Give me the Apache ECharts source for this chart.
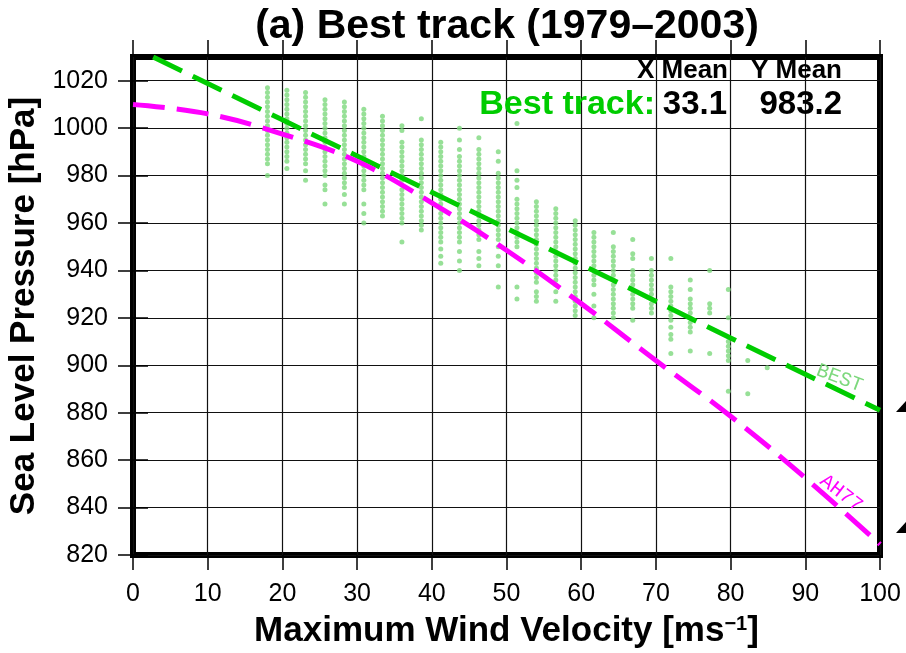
<!DOCTYPE html>
<html>
<head>
<meta charset="utf-8">
<title>Best track (1979–2003)</title>
<script src="https://cdn.jsdelivr.net/npm/echarts@6.0.0/dist/echarts.min.js"></script>
<style>
  html, body { margin: 0; padding: 0; background: #fff; }
  #chart { width: 906px; height: 653px; }
</style>
</head>
<body>
<div id="chart"></div>
<script>
// wind speed of each observation column (m/s, 5 kt steps)
const windColumns = [18.0, 20.6, 23.1, 25.7, 28.3, 30.9, 33.4, 36.0, 38.6, 41.2, 43.7, 46.3, 48.9, 51.4,
  54.0, 56.6, 59.2, 61.7, 64.3, 66.9, 69.4, 72.0, 74.6, 77.2, 79.7, 82.3, 84.9];

// sea level pressures observed in each column (hPa)
const pressureColumns = [
  [1017, 1015, 1013, 1011, 1009, 1007, 1005, 1003, 1001, 999, 997, 995, 993, 991, 989, 987, 985, 980],
  [1016, 1014, 1012, 1010, 1008, 1006, 1004, 1002, 1000, 998, 996, 994, 992, 990, 988, 986, 983],
  [1015, 1013, 1011, 1009, 1007, 1005, 1003, 1001, 999, 997, 995, 993, 991, 989, 987, 985, 982, 978],
  [1012, 1010, 1008, 1006, 1004, 1002, 1000, 998, 996, 994, 992, 990, 988, 986, 984, 982, 980, 976, 974, 968],
  [1011, 1009, 1007, 1005, 1003, 1001, 999, 997, 995, 993, 991, 989, 987, 985, 983, 981, 979, 977, 975, 972, 968],
  [1008, 1006, 1004, 1002, 1000, 998, 996, 994, 992, 990, 988, 986, 984, 982, 980, 978, 976, 974, 968, 964, 960],
  [1005, 1003, 1001, 999, 997, 995, 993, 991, 989, 987, 985, 983, 981, 979, 977, 975, 973, 971, 969, 967, 965, 963],
  [1001, 999, 994, 992, 990, 988, 986, 984, 982, 980, 978, 976, 974, 972, 970, 968, 966, 964, 962, 960, 952],
  [1004, 995, 993, 991, 989, 987, 985, 983, 981, 979, 977, 975, 973, 971, 969, 967, 965, 963, 961, 959, 957],
  [994, 992, 990, 988, 986, 984, 982, 980, 978, 976, 974, 972, 970, 968, 966, 964, 962, 960, 958, 956, 954, 952, 949, 946, 943],
  [1000, 995, 991, 988, 986, 984, 982, 980, 978, 976, 974, 972, 970, 968, 966, 964, 962, 960, 958, 956, 954, 952, 948, 944, 940],
  [996, 991, 989, 987, 985, 983, 981, 979, 977, 975, 973, 971, 969, 967, 965, 963, 961, 959, 957, 955, 953, 948, 945, 942],
  [990, 986, 981, 979, 977, 975, 973, 971, 969, 967, 965, 963, 961, 959, 957, 955, 953, 950, 946, 942, 933],
  [1002, 982, 978, 975, 970, 968, 966, 964, 962, 960, 958, 956, 954, 952, 950, 933, 928],
  [969, 967, 965, 963, 961, 959, 957, 955, 953, 951, 949, 947, 945, 943, 941, 939, 937, 935, 931, 929, 927],
  [966, 964, 962, 960, 958, 956, 954, 952, 950, 948, 946, 944, 942, 940, 938, 936, 934, 931, 927],
  [961, 959, 957, 955, 953, 951, 949, 947, 945, 943, 941, 939, 937, 935, 933, 931, 929, 927, 925, 923, 921],
  [956, 954, 952, 950, 948, 946, 944, 942, 940, 938, 936, 934, 930, 925, 920],
  [956, 950, 948, 946, 944, 942, 940, 938, 936, 934, 932, 930, 928, 926, 924, 922, 920],
  [953, 947, 945, 940, 938, 936, 934, 932, 930, 928, 926, 924, 919],
  [945, 940, 938, 936, 934, 932, 930, 928, 926, 924, 922],
  [945, 933, 931, 929, 927, 925, 923, 921, 919, 916, 913, 911, 905],
  [936, 932, 928, 926, 924, 922, 920, 918, 916, 914, 906],
  [940, 926, 924, 922, 905],
  [932, 920, 910, 908, 906, 904, 902, 889],
  [902, 888],
  [899]
];

// fitted curve (BEST) and Atkinson-Holliday 1977 relation (AH77)
const bestWind = [2.7, 20, 40, 60, 80, 100];
const bestPressure = [1030, 1003.5, 973, 942.5, 911.5, 881];
const ahWind = [0, 10, 20, 30, 40, 50, 60, 70, 80, 90, 100];
const ahPressure = [1010, 1006, 997.5, 986, 968.5, 948.5, 926, 902, 878.5, 852.5, 824.5];

// axis ticks
const xTicks = [0, 10, 20, 30, 40, 50, 60, 70, 80, 90, 100];
const yTicks = [820, 840, 860, 880, 900, 920, 940, 960, 980, 1000, 1020];

// mean values box
const meanHeaders = ['X Mean', 'Y Mean'];
const meanLabel = 'Best track:';
const meanValues = ['33.1', '983.2'];

const FONT = '"Liberation Sans", Arial, Helvetica, sans-serif';
const GREEN = '#00cc00';
const LIGHT_GREEN = '#7dd87d';
const MAGENTA = '#ff00ff';

const chart = echarts.init(document.getElementById('chart'), null, { renderer: 'canvas' });

const scatterData = [];
windColumns.forEach((w, i) => {
  pressureColumns[i].forEach(p => scatterData.push([w, p]));
});

const tickStyle = { color: '#000', width: 1.5 };
const gridLine = { show: true, lineStyle: { color: '#111', width: 1.2 } };

chart.setOption({
  animation: false,
  backgroundColor: '#fff',
  grid: {
    left: 133, right: 26, top: 57, bottom: 98,
    outerBoundsMode: 'none', containLabel: false,
    show: true, borderColor: '#000', borderWidth: 6, backgroundColor: 'transparent'
  },
  xAxis: [
    {
      type: 'value', position: 'bottom', min: 0, max: 100, interval: 10,
      name: '{m|Maximum Wind Velocity [ms}{s|−1}{m|]}',
      nameLocation: 'middle', nameGap: 59,
      nameTextStyle: {
        rich: {
          m: { fontSize: 35, fontWeight: 'bold', fontFamily: FONT, color: '#000' },
          s: { fontSize: 20, fontWeight: 'bold', fontFamily: FONT, color: '#000', verticalAlign: 'top', padding: [0, 0, 12, 0] }
        }
      },
      axisLine: { show: false },
      axisTick: { show: true, length: 15, lineStyle: tickStyle, customValues: xTicks },
      axisLabel: { margin: 27, fontSize: 25, color: '#000', fontFamily: FONT, customValues: xTicks, formatter: v => String(v) },
      splitLine: gridLine
    },
    {
      type: 'value', position: 'top', min: 0, max: 100, interval: 10,
      axisLine: { show: false },
      axisTick: { show: true, length: 17, lineStyle: tickStyle, customValues: xTicks },
      axisLabel: { show: false },
      splitLine: { show: false }
    }
  ],
  yAxis: [
    {
      type: 'value', position: 'left', min: 820, max: 1030, interval: 20,
      name: 'Sea Level Pressure [hPa]',
      nameLocation: 'middle', nameGap: 87, nameRotate: 90,
      nameTextStyle: { fontSize: 35, fontWeight: 'bold', fontFamily: FONT, color: '#000' },
      axisLine: { show: false },
      axisTick: { show: true, length: 15, lineStyle: tickStyle, customValues: yTicks },
      axisLabel: { margin: 25, fontSize: 25, color: '#000', fontFamily: FONT, customValues: yTicks, formatter: v => String(v) },
      splitLine: gridLine
    },
    {
      type: 'value', position: 'right', min: 820, max: 1030, interval: 20,
      axisLine: { show: false },
      axisTick: { show: true, length: 15, lineStyle: tickStyle, customValues: yTicks },
      axisLabel: { show: false },
      splitLine: { show: false }
    }
  ],
  series: [
    {
      name: 'Best track', type: 'scatter', symbol: 'circle', symbolSize: 5,
      itemStyle: { color: LIGHT_GREEN },
      data: scatterData, z: 2
    },
    {
      name: 'BEST', type: 'line', showSymbol: false, z: 3,
      lineStyle: { color: GREEN, width: 5, type: [32, 12] },
      data: bestWind.map((w, i) => [w, bestPressure[i]])
    },
    {
      name: 'AH77', type: 'line', showSymbol: false, smooth: 0.4, z: 3,
      lineStyle: { color: MAGENTA, width: 5, type: [32, 12] },
      data: ahWind.map((w, i) => [w, ahPressure[i]])
    }
  ]
});

// curve labels, anchored in data space
const bestAt = chart.convertToPixel({ gridIndex: 0 }, [94.6, 894.5]);
const ahAt = chart.convertToPixel({ gridIndex: 0 }, [94.8, 846]);

const txt = (x, y, text, size, color, align) => ({
  type: 'text', x: x, y: y, z: 10,
  style: { text: text, fill: color, font: 'bold ' + size + 'px ' + FONT, textAlign: align, textVerticalAlign: 'middle' }
});

chart.setOption({
  graphic: [
    txt(507, 27, '(a) Best track (1979–2003)', 41, '#000', 'center'),
    txt(728, 71, meanHeaders[0], 26, '#000', 'right'),
    txt(842, 71, meanHeaders[1], 26, '#000', 'right'),
    txt(655, 105, meanLabel, 34, GREEN, 'right'),
    txt(727, 105, meanValues[0], 33, '#000', 'right'),
    txt(842, 105, meanValues[1], 33, '#000', 'right'),
    {
      type: 'text', x: bestAt[0], y: bestAt[1], rotation: -0.36, z: 10,
      style: { text: 'BEST', fill: LIGHT_GREEN, font: '20px "Liberation Mono", monospace', textAlign: 'center', textVerticalAlign: 'middle' }
    },
    {
      type: 'text', x: ahAt[0], y: ahAt[1], rotation: -0.66, z: 10,
      style: { text: 'AH77', fill: MAGENTA, font: '20px "Liberation Mono", monospace', textAlign: 'center', textVerticalAlign: 'middle' }
    },
    { type: 'polygon', z: 10, shape: { points: [[896, 412], [906, 401], [906, 412]] }, style: { fill: '#000' } },
    { type: 'polygon', z: 10, shape: { points: [[896, 533], [906, 522], [906, 533]] }, style: { fill: '#000' } }
  ]
});
</script>
</body>
</html>
